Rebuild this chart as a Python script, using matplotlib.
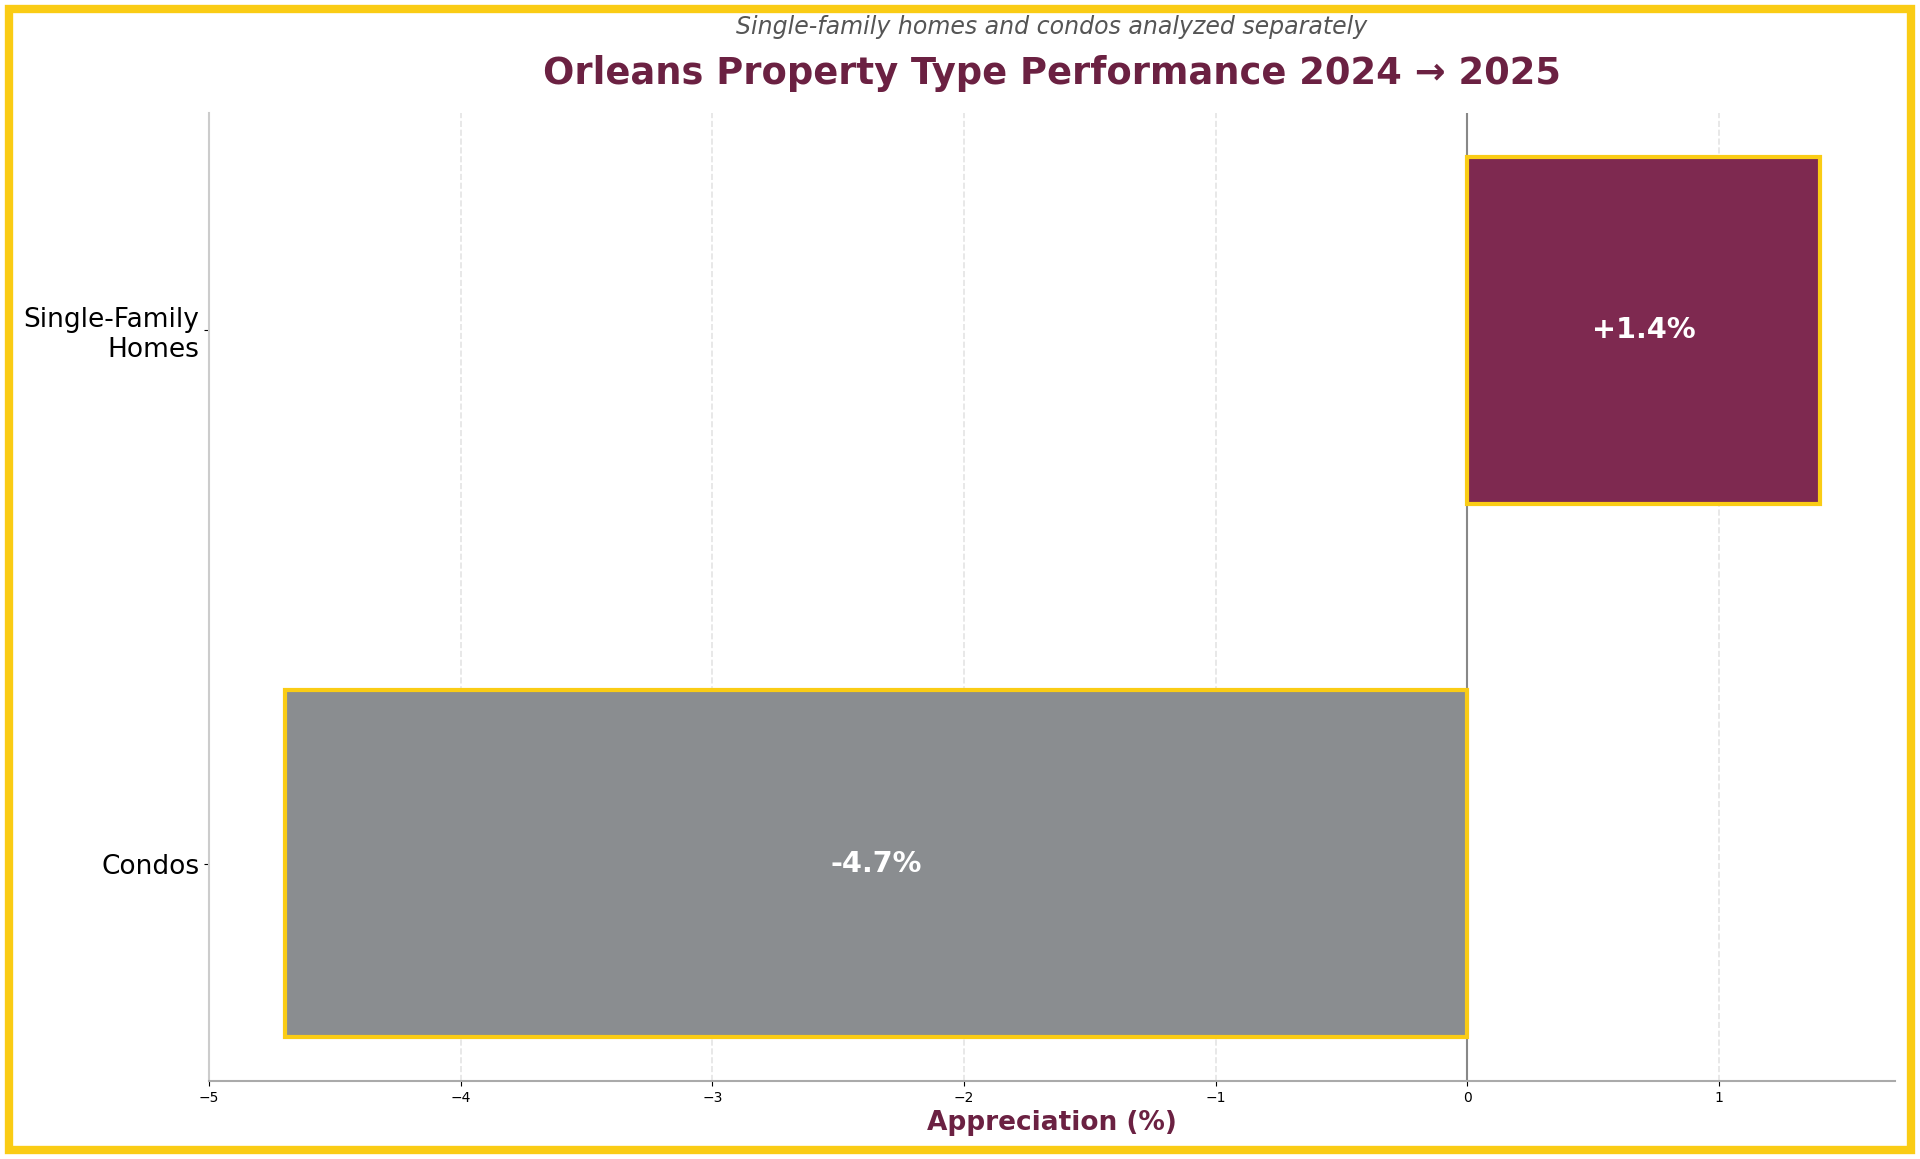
import matplotlib
matplotlib.use("Agg")
import matplotlib.pyplot as plt
from matplotlib.patches import Rectangle

categories = ["Condos", "Single-Family\nHomes"]
values = [-4.7, 1.4]
labels = ["-4.7%", "+1.4%"]
colors = ["#8A8D90", "#7E2950"]

MAROON = "#6B2142"
YELLOW = "#FACC15"

fig = plt.figure(figsize=(19.2, 11.59), dpi=100)
ax = fig.add_axes([0.1089, 0.0673, 0.8781, 0.8352])

ypos = list(range(len(categories)))
ax.barh(ypos, values, height=0.65, color=colors, edgecolor=YELLOW, linewidth=3, zorder=3)
for y, v, lab in zip(ypos, values, labels):
    ax.text(v / 2, y, lab, ha="center", va="center", color="white",
            fontsize=20.7, fontweight="bold", zorder=4)

ax.set_yticks(ypos)
ax.set_yticklabels(categories, fontsize=19)
ax.set_xlim(min(values) - 0.3, max(values) + 0.3)
ax.axvline(0, color="#888888", linewidth=1.5, zorder=2)
ax.grid(axis="x", linestyle="--", color="#dddddd", linewidth=1.2, alpha=0.8, zorder=0)
ax.set_axisbelow(True)
for s in ["top", "right"]:
    ax.spines[s].set_visible(False)
ax.spines["left"].set_color("#cccccc")
ax.spines["bottom"].set_color("#aaaaaa")
ax.spines["left"].set_linewidth(1.5)
ax.spines["bottom"].set_linewidth(1.5)
ax.tick_params(axis="x", labelsize=10)
ax.set_xlabel("Appreciation (%)", fontsize=19, fontweight="bold", color=MAROON, labelpad=4)

xc = (0.1089 + 0.987) / 2
fig.text(xc, 1 - 74 / 1159, "Orleans Property Type Performance 2024 \u2192 2025",
         ha="center", va="center", fontsize=26.6, fontweight="bold", color=MAROON)
fig.text(xc, 1 - 27 / 1159, "Single-family homes and condos analyzed separately",
         ha="center", va="center", fontsize=17, fontstyle="italic", color="#555555")

W, H = 1920, 1159
fig.patches.append(Rectangle((9 / W, 9 / H), 1 - 18 / W, 1 - 18 / H, transform=fig.transFigure,
                             fill=False, edgecolor=YELLOW, linewidth=6, zorder=10))

fig.savefig("out.png", dpi=100)
